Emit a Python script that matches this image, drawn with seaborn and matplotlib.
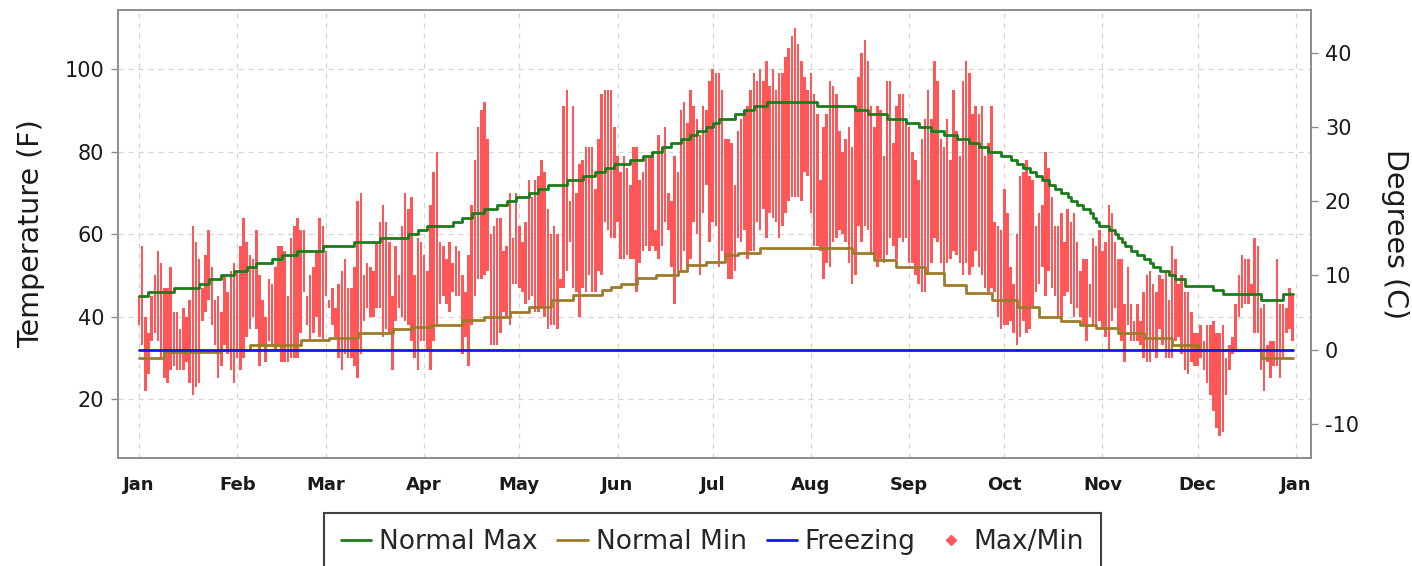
import numpy as np
import pandas as pd
import matplotlib
matplotlib.use("Agg")
import matplotlib.pyplot as plt
import seaborn as sns
from matplotlib.lines import Line2D

# ---------------- data ----------------
month_labels = ["Jan", "Feb", "Mar", "Apr", "May", "Jun", "Jul", "Aug",
                "Sep", "Oct", "Nov", "Dec", "Jan"]
month_start_days = [0, 31, 59, 90, 120, 151, 181, 212, 243, 273, 304, 334, 365]

jan_max = [45,57,40,36,45,50,56,53,47,47,52,41,41,37,42,40,44,62,58,54,47,55,61,52,44,45,41,50,46,51,53]
jan_min = [38,33,22,26,34,36,34,30,25,24,27,28,27,27,27,29,24,21,23,24,39,41,44,38,33,25,28,33,31,27,24]
feb_max = [51,57,64,58,55,54,61,50,44,40,49,48,52,57,57,56,45,59,62,64,61,61,45,50,52,56,64,62]
feb_min = [30,27,30,35,37,40,37,28,33,29,34,33,32,33,29,29,29,30,30,30,36,46,38,34,36,40,35,34]
mar_max = [56,44,47,42,48,51,54,47,47,52,68,70,50,53,52,51,58,63,67,63,58,45,57,50,62,70,66,69,50,59,58]
mar_min = [45,42,38,35,30,27,31,30,30,28,25,31,39,42,40,40,42,42,35,37,36,27,39,42,40,39,38,34,30,27,34]
apr_max = [55,51,67,75,80,58,57,54,58,53,57,56,50,46,55,67,78,86,90,92,83,60,62,64,64,56,57,70,59,70]
apr_min = [34,32,27,34,38,43,45,43,41,46,45,45,31,35,28,38,45,49,49,50,51,33,33,33,36,41,40,38,48,48]
may_max = [62,58,63,73,69,73,74,78,75,66,60,62,60,49,91,95,68,91,70,77,78,81,81,81,71,83,94,95,95,95,86]
may_min = [47,46,43,44,45,41,41,42,40,37,38,38,37,47,47,51,58,47,46,40,47,46,50,46,46,51,50,63,61,59,59]
jun_max = [79,75,79,76,72,81,81,73,75,79,79,80,61,84,81,86,70,68,79,75,90,92,87,95,91,88,84,91,90,97]
jun_min = [63,54,54,55,54,54,46,53,56,57,56,57,56,54,57,63,61,52,43,51,51,56,52,54,63,60,50,65,72,58]
jul_max = [100,99,99,95,83,83,82,72,85,88,90,91,95,99,97,100,97,102,96,100,95,99,99,103,105,108,110,106,102,98,95]
jul_min = [63,62,52,56,54,49,49,51,59,58,61,54,56,56,63,61,66,59,65,64,63,59,62,65,68,69,69,69,68,75,74]
aug_max = [99,94,89,73,86,89,97,96,94,85,80,83,86,81,91,98,104,107,102,91,86,91,90,79,97,97,82,91,94,94,88]
aug_min = [65,57,57,56,49,53,52,58,59,61,60,58,53,48,50,62,58,62,61,55,55,52,54,53,55,59,57,54,59,58,59]
sep_max = [86,80,78,73,83,88,95,88,102,97,83,81,88,78,95,85,79,97,102,99,89,91,89,91,79,82,91,63,62,61]
sep_min = [53,53,50,48,46,46,50,53,59,58,53,50,53,54,56,55,53,50,53,50,52,56,52,50,47,46,47,46,40,37]
oct_max = [71,65,52,48,60,74,75,78,74,73,62,65,67,80,76,69,62,62,65,58,66,63,65,58,51,54,54,48,59,57,61]
oct_min = [38,38,39,36,33,35,39,36,37,42,46,48,52,45,51,47,45,40,40,45,46,43,40,42,40,38,34,40,38,38,39]
nov_max = [56,58,67,65,58,54,54,43,52,43,39,43,39,46,50,51,48,46,50,49,51,44,57,54,48,50,46,46,41,36]
nov_min = [37,35,32,39,42,37,34,29,38,34,34,34,33,30,29,29,32,30,37,33,30,30,30,34,35,31,27,26,29,28]
dec_max = [36,38,34,38,38,39,36,36,38,30,33,35,43,50,55,54,54,48,59,57,42,43,33,34,34,54,43,43,42,47,45]
dec_min = [28,30,27,24,21,17,13,11,12,21,27,31,32,40,42,43,43,45,36,36,27,22,29,25,28,28,25,30,36,37,34]

daily_max = (jan_max + feb_max + mar_max + apr_max + may_max + jun_max +
             jul_max + aug_max + sep_max + oct_max + nov_max + dec_max)
daily_min = (jan_min + feb_min + mar_min + apr_min + may_min + jun_min +
             jul_min + aug_min + sep_min + oct_min + nov_min + dec_min)

# normal max / min as step breakpoints (day, value)
normal_max_days = [0, 3, 11, 19, 22, 26, 30, 34, 37, 42, 45, 50, 58, 68, 76, 85, 88, 91, 99, 102,
                   105, 109, 113, 116, 119, 123, 126, 129, 135, 140, 144, 147, 150, 155, 159, 162,
                   165, 168, 171, 174, 176, 179, 181, 183, 188, 191, 194, 198, 214, 226, 230, 236,
                   242, 246, 250, 254, 258, 262, 265, 268, 272, 275, 277, 279, 281, 283, 285, 287,
                   289, 291, 293, 294, 296, 298, 300, 301, 302, 303, 306, 308, 309, 310, 311, 313,
                   315, 317, 319, 320, 322, 325, 327, 330, 339, 342, 354, 361, 364]
normal_max_vals = [45, 46, 47, 48, 49, 50, 51, 52, 53, 54, 55, 56, 57, 58, 59, 60, 61, 62, 63, 64,
                   65, 66, 67, 68, 69, 70, 71, 72, 73, 74, 75, 76, 77, 78, 79, 80,
                   81, 82, 83, 84, 85, 86, 87, 88, 89, 90, 91, 92, 91, 90, 89, 88,
                   87, 86, 85, 84, 83, 82, 81, 80, 79, 78, 77, 76, 75, 74, 73, 72,
                   71, 70, 69, 68, 67, 66, 65, 64, 63, 62, 61, 60, 59, 58, 57, 56,
                   55, 54, 53, 52, 51, 50, 49, 47.5, 46.5, 45.5, 44, 45.5, 45.5]
normal_min_days = [0, 8, 26, 35, 51, 60, 69, 80, 86, 92, 102, 109, 117, 123, 130, 137, 146, 149,
                   152, 157, 163, 170, 173, 179, 185, 189, 196, 225, 232, 239, 248, 254, 261,
                   269, 277, 284, 291, 297, 302, 309, 317, 326, 334, 354, 364]
normal_min_vals = [30, 31.5, 32, 33, 34.3, 34.7, 36, 37, 37.4, 38, 39.2, 40, 41.2, 42.4, 44, 45.2,
                   46.4, 47.2, 48, 49.3, 50.1, 51, 52.5, 53.3, 54.9, 55.3, 56.5, 55.3, 53.7, 52.1,
                   50.5, 47.6, 45.6, 44, 42.4, 40, 38.8, 37.9, 37.1, 36.1, 34.7, 33.1, 31.9, 29.9, 29.9]
freezing_f = 32

y_ticks_f = [20, 40, 60, 80, 100]
y_ticks_c = [-10, 0, 10, 20, 30, 40]

# ---------------- style ----------------
sns.set_theme(style="white")
plt.rcParams['font.family'] = ['DejaVu Sans']

red = "#ff5757"
green = "#1b7c1b"
olive = "#9d7b2c"
blue = "#1414ff"
frame = "#8c8c8c"
txt = "#1a1a1a"

fig = plt.figure(figsize=(14.12, 5.66), dpi=100)
ax = fig.add_axes([0.0836, 0.1908, 0.8449, 0.7915])

days = np.arange(len(daily_max))
hi = np.array(daily_max, dtype=float)
lo = np.array(daily_min, dtype=float)
ax.bar(days, hi - lo, bottom=lo, width=0.8, color=red, linewidth=0, zorder=2)

df_nmax = pd.DataFrame({"day": normal_max_days, "temp": normal_max_vals})
df_nmin = pd.DataFrame({"day": normal_min_days, "temp": normal_min_vals})
df_frz = pd.DataFrame({"day": days, "temp": [freezing_f] * len(days)})
sns.lineplot(data=df_nmax, x="day", y="temp", drawstyle="steps-post", color=green,
             lw=2.0, ax=ax, zorder=3, estimator=None)
sns.lineplot(data=df_nmin, x="day", y="temp", drawstyle="steps-post", color=olive,
             lw=2.0, ax=ax, zorder=3, estimator=None)
sns.lineplot(data=df_frz, x="day", y="temp", color=blue, lw=2.0, ax=ax, zorder=4,
             estimator=None)

ax.set_xlim(-6.6, 369.8)
ax.set_ylim(5.7, 114.3)
ax.set_xticks(month_start_days)
ax.set_xticklabels(month_labels, fontsize=13, fontweight="bold", color=txt)
ax.set_yticks(y_ticks_f)
ax.set_yticklabels([str(v) for v in y_ticks_f], fontsize=15, color=txt)
ax.set_xlabel("")
ax.set_ylabel("Temperature (F)", fontsize=20.5, color=txt, labelpad=14)
ax.grid(True, color="#d4d4d4", lw=0.9, ls=(0, (4, 4)), zorder=0)
ax.tick_params(axis="both", direction="out", length=5, width=1, color=frame, pad=5)
ax.tick_params(axis="x", pad=8)
for s in ax.spines.values():
    s.set_color(frame)
    s.set_linewidth(1.2)

ax2 = ax.twinx()
ax2.set_ylim((5.7 - 32) / 1.8, (114.3 - 32) / 1.8)
ax2.set_yticks(y_ticks_c)
ax2.set_yticklabels([str(v) for v in y_ticks_c], fontsize=15, color=txt)
ax2.set_ylabel("Degrees (C)", fontsize=20.5, rotation=270, labelpad=36, color=txt)
ax2.tick_params(axis="y", direction="out", length=5, width=1, color=frame, pad=5)
ax2.grid(False)
for s in ax2.spines.values():
    s.set_color(frame)
    s.set_linewidth(1.2)

handles = [
    Line2D([], [], color=green, lw=2),
    Line2D([], [], color=olive, lw=2),
    Line2D([], [], color=blue, lw=2),
    Line2D([], [], color=red, lw=0, marker="D", markersize=5),
]
labels = ["Normal Max", "Normal Min", "Freezing", "Max/Min"]
leg = fig.legend(handles, labels, loc="upper center", bbox_to_anchor=(0.5046, 0.094),
                 ncol=4, frameon=True, fancybox=False, fontsize=19, handlelength=1.15,
                 handletextpad=0.3, columnspacing=0.75, borderpad=0.62, borderaxespad=0)
leg.get_frame().set_edgecolor("#111111")
leg.get_frame().set_linewidth(1.5)

fig.savefig("out.png", dpi=100)
